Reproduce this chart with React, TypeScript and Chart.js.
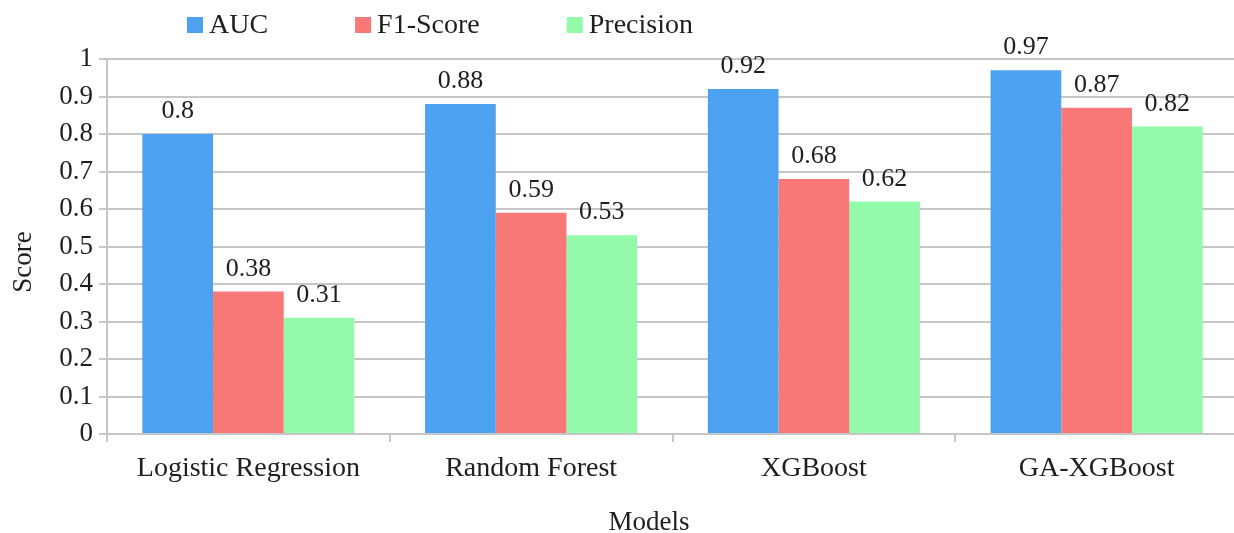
import { useEffect, useRef } from 'react';
import { Chart, registerables } from 'chart.js';
Chart.register(...registerables);

const categories = ['Logistic Regression', 'Random Forest', 'XGBoost', 'GA-XGBoost'];
const seriesNames = ['AUC', 'F1-Score', 'Precision'];
const aucValues = [0.8, 0.88, 0.92, 0.97];
const f1Values = [0.38, 0.59, 0.68, 0.87];
const precisionValues = [0.31, 0.53, 0.62, 0.82];
const seriesColors = ['#4CA2F1', '#F87878', '#93FAA9'];
const yTickLabels = ['0', '0.1', '0.2', '0.3', '0.4', '0.5', '0.6', '0.7', '0.8', '0.9', '1'];
const xAxisTitle = 'Models';
const yAxisTitle = 'Score';

const FONT = '"Liberation Serif", "Times New Roman", serif';
const TEXT = '#1e1e1e';
const GRID = '#c6c6c6';

const valueLabels = {
  id: 'valueLabels',
  afterDatasetsDraw(chart: any) {
    const ctx = chart.ctx;
    ctx.save();
    ctx.font = `26px ${FONT}`;
    ctx.fillStyle = TEXT;
    ctx.textAlign = 'center';
    ctx.textBaseline = 'alphabetic';
    chart.data.datasets.forEach((ds: any, di: number) => {
      const meta = chart.getDatasetMeta(di);
      meta.data.forEach((el: any, i: number) => {
        ctx.fillText(String(ds.data[i]), el.x, el.y - 16);
      });
    });
    ctx.restore();
  },
};

const customLegend = {
  id: 'customLegend',
  afterDraw(chart: any) {
    const ctx = chart.ctx;
    ctx.save();
    ctx.font = `28px ${FONT}`;
    ctx.textBaseline = 'alphabetic';
    ctx.textAlign = 'left';
    let x = 187;
    chart.data.datasets.forEach((ds: any) => {
      ctx.fillStyle = ds.backgroundColor;
      ctx.fillRect(x, 17, 16, 16);
      ctx.fillStyle = TEXT;
      const tx = x + 22;
      ctx.fillText(ds.label, tx, 33);
      x = tx + ctx.measureText(ds.label).width + 87;
    });
    ctx.restore();
  },
};

const axisTitles = {
  id: 'axisTitles',
  afterDraw(chart: any) {
    const ctx = chart.ctx;
    ctx.save();
    ctx.font = `27px ${FONT}`;
    ctx.fillStyle = TEXT;
    ctx.textAlign = 'center';
    ctx.textBaseline = 'alphabetic';
    ctx.fillText(xAxisTitle, 649, 530);
    ctx.translate(31, 262);
    ctx.rotate(-Math.PI / 2);
    ctx.fillText(yAxisTitle, 0, 0);
    ctx.restore();
  },
};

export default function App() {
  const ref = useRef<HTMLCanvasElement>(null);
  useEffect(() => {
    if (!ref.current) return;
    const values = [aucValues, f1Values, precisionValues];
    const chart = new Chart(ref.current, {
      type: 'bar',
      data: {
        labels: categories,
        datasets: seriesNames.map((name, i) => ({
          label: name,
          data: values[i],
          backgroundColor: seriesColors[i],
          borderWidth: 0,
          barPercentage: 1,
          categoryPercentage: 0.75,
        })),
      },
      options: {
        responsive: false,
        animation: false,
        layout: { padding: { top: 59, right: 2, bottom: 0, left: 0 } },
        plugins: {
          legend: { display: false },
          tooltip: { enabled: false },
          title: { display: false },
        },
        scales: {
          x: {
            afterFit: (scale: any) => {
              scale.height = 99;
            },
            grid: {
              drawOnChartArea: false,
              drawTicks: true,
              tickLength: 8,
              color: GRID,
              lineWidth: 2,
              offset: true,
            },
            border: { display: true, color: GRID, width: 2 },
            ticks: {
              padding: 10,
              color: TEXT,
              font: { family: FONT, size: 28 },
              maxRotation: 0,
            },
          },
          y: {
            min: 0,
            max: 1,
            afterFit: (scale: any) => {
              scale.width = 107;
            },
            grid: {
              color: GRID,
              lineWidth: 2,
              drawTicks: true,
              tickLength: 8,
            },
            border: { display: true, color: GRID, width: 2 },
            ticks: {
              stepSize: 0.1,
              padding: 6,
              color: TEXT,
              font: { family: FONT, size: 27 },
              callback: (_v: any, i: number) => yTickLabels[i],
            },
          },
        },
      },
      plugins: [valueLabels, customLegend, axisTitles],
    });
    return () => chart.destroy();
  }, []);
  return (
    <div style={{ position: 'absolute', left: 0, top: 0, width: 1234, height: 533, overflow: 'hidden', background: '#fff' }}>
      <canvas ref={ref} width={1240} height={533} style={{ width: 1240, height: 533, display: 'block' }} />
    </div>
  );
}
